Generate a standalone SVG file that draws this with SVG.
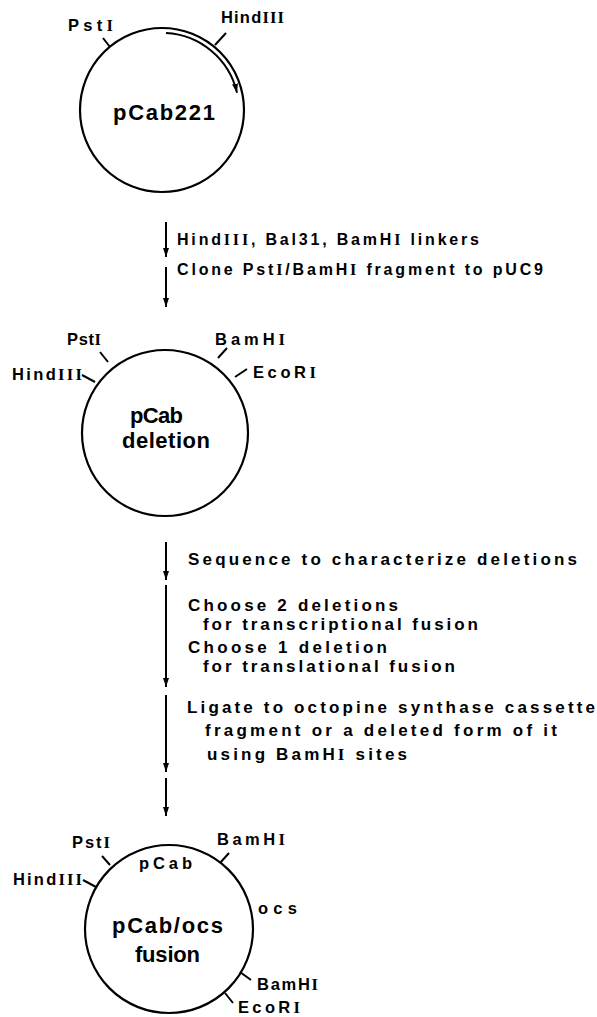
<svg xmlns="http://www.w3.org/2000/svg" width="597" height="1017" viewBox="0 0 597 1017">
  <style>
    .plasmid { fill: none; stroke: #000; stroke-width: 2.2; }
    .tick { stroke: #000; stroke-width: 2; stroke-linecap: butt; }
    .step { stroke: #000; stroke-width: 2; fill: none; }
    text { font-family: "Liberation Sans", Arial, sans-serif; font-weight: 700; fill: #000; }
    .site { font-size: 16.5px; }
    .name { font-size: 22px; }
    .note { font-size: 16px; }
    .note2 { font-size: 17px; }
    .rn { font-family: "Liberation Serif", "Times New Roman", serif; font-weight: 700; }
  </style>
  <defs>
    <marker id="head" markerUnits="userSpaceOnUse" markerWidth="10" markerHeight="8" viewBox="0 0 10 8" refX="9" refY="4" orient="auto">
      <path d="M0,1 L9,4 L0,7 z" fill="#000"/>
    </marker>
  </defs>
  <rect width="597" height="1017" fill="#fff"/>

  <!-- plasmid pCab221 -->
  <g id="pCab221">
    <circle class="plasmid" cx="162" cy="110" r="82"/>
    <line class="tick" x1="110" y1="47" x2="103" y2="38"/>
    <line class="tick" x1="215" y1="45" x2="226" y2="33"/>
    <path class="step" d="M166,33 A77,77 0 0 1 237,92.7" marker-end="url(#head)"/>
    <text class="site" x="68" y="31" textLength="45" lengthAdjust="spacing">Pst<tspan class="rn">I</tspan></text>
    <text class="site" x="221" y="23" textLength="63" lengthAdjust="spacing">Hind<tspan class="rn">III</tspan></text>
    <text class="name" x="113" y="120" textLength="102" lengthAdjust="spacing">pCab221</text>
  </g>

  <!-- plasmid pCab deletion -->
  <g id="pCab-deletion">
    <circle class="plasmid" cx="165" cy="433" r="83"/>
    <line class="tick" x1="108" y1="362" x2="100" y2="352"/>
    <line class="tick" x1="95" y1="382" x2="82" y2="375"/>
    <line class="tick" x1="218" y1="358" x2="227" y2="348"/>
    <line class="tick" x1="235" y1="377" x2="247" y2="369"/>
    <text class="site" x="67" y="345" textLength="34" lengthAdjust="spacing">Pst<tspan class="rn">I</tspan></text>
    <text class="site" x="12" y="380" textLength="70" lengthAdjust="spacing">Hind<tspan class="rn">III</tspan></text>
    <text class="site" x="215" y="345" textLength="70" lengthAdjust="spacing">BamH<tspan class="rn">I</tspan></text>
    <text class="site" x="253" y="378" textLength="63" lengthAdjust="spacing">EcoR<tspan class="rn">I</tspan></text>
    <text class="name" x="130" y="423" textLength="53" lengthAdjust="spacing">pCab</text>
    <text class="name" x="122" y="448" textLength="88" lengthAdjust="spacing">deletion</text>
  </g>

  <!-- plasmid pCab/ocs fusion -->
  <g id="pCab-ocs-fusion">
    <circle class="plasmid" cx="169" cy="929" r="84"/>
    <line class="tick" x1="110" y1="865" x2="102" y2="856"/>
    <line class="tick" x1="96" y1="887" x2="83" y2="880"/>
    <line class="tick" x1="220" y1="863" x2="229" y2="853"/>
    <line class="tick" x1="240" y1="972" x2="251" y2="980"/>
    <line class="tick" x1="225" y1="993" x2="233" y2="1003"/>
    <text class="site" x="72" y="848" textLength="38" lengthAdjust="spacing">Pst<tspan class="rn">I</tspan></text>
    <text class="site" x="13" y="885" textLength="69" lengthAdjust="spacing">Hind<tspan class="rn">III</tspan></text>
    <text class="site" x="217" y="845" textLength="68" lengthAdjust="spacing">BamH<tspan class="rn">I</tspan></text>
    <text class="site" x="139" y="869" textLength="53" lengthAdjust="spacing">pCab</text>
    <text class="site" x="258" y="914" textLength="39" lengthAdjust="spacing">ocs</text>
    <text class="site" x="257" y="990" textLength="61" lengthAdjust="spacing">BamH<tspan class="rn">I</tspan></text>
    <text class="site" x="238" y="1013" textLength="62" lengthAdjust="spacing">EcoR<tspan class="rn">I</tspan></text>
    <text class="name" x="112" y="933" textLength="111" lengthAdjust="spacing">pCab/ocs</text>
    <text class="name" x="135" y="962" textLength="65" lengthAdjust="spacing">fusion</text>
  </g>

  <!-- procedure steps -->
  <g id="connectors">
    <line class="step" x1="166" y1="222" x2="166" y2="257" marker-end="url(#head)"/>
    <line class="step" x1="166" y1="267" x2="166" y2="307" marker-end="url(#head)"/>
    <line class="step" x1="166" y1="542" x2="166" y2="580" marker-end="url(#head)"/>
    <line class="step" x1="166" y1="585" x2="166" y2="687" marker-end="url(#head)"/>
    <line class="step" x1="166" y1="695" x2="166" y2="772" marker-end="url(#head)"/>
    <line class="step" x1="166" y1="778" x2="166" y2="816" marker-end="url(#head)"/>
  </g>

  <g id="step-notes">
    <text class="note" x="177" y="245" textLength="302" lengthAdjust="spacing">Hind<tspan class="rn">III</tspan>, Bal31, BamH<tspan class="rn">I</tspan> linkers</text>
    <text class="note" x="177" y="275" textLength="366" lengthAdjust="spacing">Clone Pst<tspan class="rn">I</tspan>/BamH<tspan class="rn">I</tspan> fragment to pUC9</text>
    <text class="note2" x="188" y="565" textLength="389" lengthAdjust="spacing">Sequence to characterize deletions</text>
    <text class="note2" x="188" y="611" textLength="210" lengthAdjust="spacing">Choose 2 deletions</text>
    <text class="note2" x="203" y="630" textLength="275" lengthAdjust="spacing">for transcriptional fusion</text>
    <text class="note2" x="188" y="653" textLength="199" lengthAdjust="spacing">Choose 1 deletion</text>
    <text class="note2" x="203" y="672" textLength="252" lengthAdjust="spacing">for translational fusion</text>
    <text class="note2" x="187" y="713" textLength="408" lengthAdjust="spacing">Ligate to octopine synthase cassette</text>
    <text class="note2" x="205" y="736" textLength="352" lengthAdjust="spacing">fragment or a deleted form of it</text>
    <text class="note2" x="207" y="760" textLength="200" lengthAdjust="spacing">using BamH<tspan class="rn">I</tspan> sites</text>
  </g>
</svg>
